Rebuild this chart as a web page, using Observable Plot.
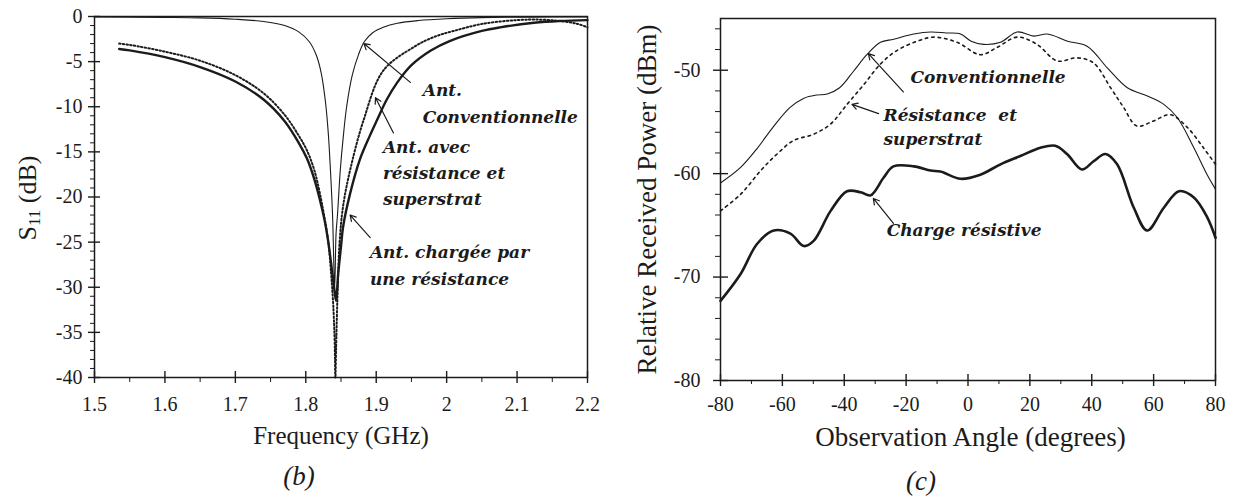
<!DOCTYPE html>
<html><head><meta charset="utf-8">
<script src="https://cdn.jsdelivr.net/npm/d3@7"></script>
<script src="https://cdn.jsdelivr.net/npm/@observablehq/plot@0.6"></script>
<style>
body{margin:0;background:#fff;}
#wrap{position:relative;width:1235px;height:497px;overflow:hidden;background:#fff;}
#left,#right{position:absolute;top:0;}
#left{left:0;} #right{left:620px;}
</style></head><body><div id="wrap"><div id="left"></div><div id="right"></div></div>
<script>
// ---------- Panel (b): S11 vs frequency ----------
const freqConv = [1.5,1.6,1.65,1.7,1.74,1.77,1.79,1.805,1.815,1.822,1.828,1.832,1.835,1.838,1.841,1.843,1.845,1.849,1.853,1.858,1.866,1.875,1.883,1.895,1.91,1.93,1.96,2.0,2.05,2.1,2.15,2.2];
const s11Conv  = [-0.05,-0.1,-0.15,-0.3,-0.55,-1.0,-1.7,-2.8,-4.3,-6.3,-9.5,-13,-17,-22,-30,-24,-22,-17,-13.5,-10,-6.5,-4.2,-2.8,-1.8,-1.2,-0.75,-0.45,-0.25,-0.12,-0.08,-0.06,-0.05];
const freqRes  = [1.535,1.55,1.6,1.65,1.7,1.74,1.77,1.79,1.802,1.812,1.82,1.827,1.832,1.837,1.841,1.843,1.846,1.85,1.853,1.863,1.877,1.891,1.901,1.915,1.93,1.95,1.977,2.005,2.05,2.076,2.124,2.16,2.2];
const s11Res   = [-3.6,-3.75,-4.5,-5.6,-7.2,-9.2,-11.6,-14,-15.8,-18,-20.3,-22.7,-25,-28,-30.5,-31.5,-28.5,-25.5,-23.3,-19.6,-15.8,-13.2,-11.5,-9.2,-7.3,-5.4,-3.8,-2.7,-1.6,-1.2,-0.7,-0.5,-0.4];
const freqSup  = [1.535,1.55,1.6,1.65,1.7,1.74,1.77,1.79,1.802,1.812,1.82,1.827,1.832,1.836,1.839,1.841,1.842,1.843,1.845,1.848,1.853,1.863,1.882,1.91,1.953,1.981,2.01,2.052,2.1,2.133,2.16,2.185,2.2];
const s11Sup   = [-3.0,-3.15,-3.9,-4.9,-6.5,-8.5,-10.9,-13.2,-14.9,-17,-19.6,-22.5,-25,-28.5,-32,-36,-40,-37,-31,-25,-21,-17,-11.5,-6.0,-3.4,-2.3,-1.6,-0.8,-0.4,-0.35,-0.5,-0.8,-1.2];
const freqTicks = [1.5,1.6,1.7,1.8,1.9,2,2.1,2.2];
const freqMinor = [1.55,1.65,1.75,1.85,1.95,2.05,2.15];
const s11Ticks  = [0,-5,-10,-15,-20,-25,-30,-35,-40];
const bNotes  = ["Ant.","Conventionnelle","Ant. avec","résistance et","superstrat","Ant. chargée par","une résistance"];
const bNoteX  = [1.966,1.966,1.9095,1.9095,1.9095,1.891,1.891];
const bNoteY  = [-8.2,-11.2,-14.5,-17.4,-20.3,-26.2,-29.2];
const bArrX1 = [1.9485,1.9245,1.8915], bArrY1 = [-7.3,-12.9,-24.5];
const bArrX2 = [1.8825,1.899,1.8630], bArrY2 = [-3.0,-9.0,-22.0];

// ---------- Panel (c): received power vs angle ----------
const angConv = [-80,-73.5,-68,-63,-57.5,-53,-49,-45.5,-41.5,-37,-32.7,-28.3,-24,-17.5,-12,-7,-2.4,1,5,10.5,15.9,21.3,25.7,32.2,38.6,45.1,51.5,58,63.3,67.7,73,77.3,80];
const powConv = [-60.9,-59.4,-57.5,-55.5,-53.6,-52.7,-52.4,-52.3,-51.7,-50.1,-48.5,-47.3,-47.0,-46.5,-46.3,-46.4,-46.5,-47.2,-47.5,-47.3,-46.3,-46.7,-46.5,-47.2,-47.7,-49.8,-51.7,-52.5,-53.3,-54.6,-57.5,-60.1,-61.5];
const angSup  = [-80,-73.5,-67,-61.7,-56.4,-50,-44.4,-39.1,-33.7,-28.3,-23,-16.5,-11,-3.5,4,9.4,15.9,22.3,28.8,35.3,40.6,46.1,50.3,54.6,60,65.4,70.8,76.1,80];
const powSup  = [-63.6,-62.0,-59.7,-58.1,-56.8,-56.2,-55.2,-53.3,-51.4,-49.4,-48.1,-47.2,-46.8,-47.3,-48.5,-47.8,-46.8,-47.5,-49.1,-48.8,-49.3,-51.7,-53.6,-55.4,-54.9,-54.3,-55.5,-57.5,-59.1];
const angRes  = [-80,-73.5,-68.2,-62.8,-57.4,-53.1,-49.9,-44.4,-39.1,-34.7,-31.5,-27.3,-24.1,-17.5,-12.1,-8.9,-2.4,4,10.5,16.9,23.4,28.2,32,36.8,40.6,44.4,48.2,53.6,57.9,63.3,68.2,73,77.3,80];
const powRes  = [-72.3,-69.7,-66.8,-65.5,-65.8,-67.0,-66.5,-63.6,-61.7,-61.8,-62.1,-60.4,-59.3,-59.3,-59.7,-59.8,-60.5,-60.1,-59.1,-58.3,-57.5,-57.3,-58.1,-59.6,-58.8,-58.1,-59.1,-63.3,-65.5,-63.3,-61.7,-62.3,-64.2,-66.2];
const angleTicks = [-80,-60,-40,-20,0,20,40,60,80];
const angleMinor = [-70,-50,-30,-10,10,30,50,70];
const powTicks   = [-80,-70,-60,-50];
const cNotes = ["Conventionnelle","Résistance  et","superstrat","Charge résistive"];
const cNoteX = [-18.6,-27.3,-27.3,-26.3];
const cNoteY = [-50.7,-54.4,-56.7,-65.5];
const cArrX1 = [-20.9,-28.9,-24.1], cArrY1 = [-52.1,-54.2,-64.8];
const cArrX2 = [-32.2,-37.5,-30.6], cArrY2 = [-48.4,-53.3,-62.4];

// ---------- helpers ----------
const serif = '"Liberation Serif", "Times New Roman", serif';
const noteFont = '"DejaVu Serif", serif';
const ink = "#1b1b1b";
const rows = (xs, ys) => xs.map((x, i) => ({x, y: ys[i]}));
const notes = (t, xs, ys) => t.map((s, i) => ({s, x: xs[i], y: ys[i]}));
const arrows = (x1, y1, x2, y2) => x1.map((v, i) => ({x1: v, y1: y1[i], x2: x2[i], y2: y2[i]}));
const fmt = d => String(d);
const tickText = {fontFamily: serif, fontSize: 20, fill: ink};

const left = Plot.plot({
  width: 620, height: 497,
  marginLeft: 94, marginRight: 33, marginTop: 16, marginBottom: 120,
  style: {fontFamily: serif, fontSize: "20px", color: ink, background: "transparent", overflow: "visible"},
  x: {domain: [1.5, 2.2]},
  y: {domain: [-40, 0]},
  marks: [
    Plot.frame({stroke: ink, strokeWidth: 1.5}),
    Plot.axisY(s11Ticks, {tickSize: 12, dx: 6, text: null, label: null, strokeWidth: 1.4}),
    Plot.axisY(d3.range(-40, 1).filter(v => v % 5 !== 0), {tickSize: 4, text: null, label: null}),
    Plot.axisY(s11Ticks, {tickSize: 0, tickPadding: 12, tickFormat: fmt, label: null, ...tickText}),
    Plot.axisX(freqTicks, {tickSize: 12, dy: -6, text: null, label: null, strokeWidth: 1.4}),
    Plot.axisX(freqMinor, {tickSize: 5, text: null, label: null}),
    Plot.axisX(freqTicks, {tickSize: 0, tickPadding: 19, tickFormat: fmt, label: null, ...tickText}),
    Plot.line(rows(freqConv, s11Conv), {x: "x", y: "y", curve: "catmull-rom", stroke: ink, strokeWidth: 1.1}),
    Plot.line(rows(freqSup, s11Sup), {x: "x", y: "y", curve: "catmull-rom", stroke: ink, strokeWidth: 2, strokeDasharray: "1.5,2.2"}),
    Plot.line(rows(freqRes, s11Res), {x: "x", y: "y", curve: "catmull-rom", stroke: ink, strokeWidth: 2.4}),
    Plot.arrow(arrows(bArrX1, bArrY1, bArrX2, bArrY2), {x1: "x1", y1: "y1", x2: "x2", y2: "y2", stroke: ink, strokeWidth: 1.2, headLength: 8}),
    Plot.text(notes(bNotes, bNoteX, bNoteY), {x: "x", y: "y", text: "s", textAnchor: "start", fontFamily: noteFont, fontWeight: "bold", fontStyle: "italic", fontSize: 17, fill: ink}),
    Plot.text(["Frequency (GHz)"], {frameAnchor: "bottom", textAnchor: "middle", lineAnchor: "middle", dy: 58, fontFamily: serif, fontSize: 25, fill: ink}),
    Plot.text(["(b)"], {frameAnchor: "bottom", textAnchor: "middle", lineAnchor: "middle", dx: -42, dy: 99, fontFamily: serif, fontSize: 27, fontStyle: "italic", fill: ink})
  ]
});
document.getElementById("left").appendChild(left);
// y label with subscript
const yl = d3.select(left).append("text")
  .attr("transform", "translate(30,198) rotate(-90)")
  .attr("text-anchor", "middle").attr("dominant-baseline", "middle")
  .attr("font-family", serif).attr("font-size", 26).attr("fill", ink);
yl.append("tspan").text("S");
yl.append("tspan").attr("font-size", 17).attr("dy", 6).text("11");
yl.append("tspan").attr("dy", -6).text(" (dB)");

const right = Plot.plot({
  width: 615, height: 497,
  marginLeft: 100, marginRight: 20, marginTop: 18, marginBottom: 117,
  style: {fontFamily: serif, fontSize: "20px", color: ink, background: "transparent", overflow: "visible"},
  x: {domain: [-80, 80]},
  y: {domain: [-80, -45]},
  marks: [
    Plot.frame({stroke: ink, strokeWidth: 1.5}),
    Plot.axisY(powTicks, {tickSize: 15, dx: 8, text: null, label: null, strokeWidth: 1.4}),
    Plot.axisY(d3.range(-80, -45, 2).filter(v => v % 10 !== 0), {tickSize: 5, text: null, label: null}),
    Plot.axisY(powTicks, {tickSize: 0, tickPadding: 20, tickFormat: fmt, label: null, ...tickText}),
    Plot.axisX(angleTicks, {tickSize: 12, dy: -6, text: null, label: null, strokeWidth: 1.4}),
    Plot.axisX(angleMinor, {tickSize: 4, text: null, label: null}),
    Plot.axisX(angleTicks, {tickSize: 0, tickPadding: 16, tickFormat: fmt, label: null, ...tickText}),
    Plot.line(rows(angConv, powConv), {x: "x", y: "y", curve: "catmull-rom", stroke: ink, strokeWidth: 1.1}),
    Plot.line(rows(angSup, powSup), {x: "x", y: "y", curve: "catmull-rom", stroke: ink, strokeWidth: 1.6, strokeDasharray: "2.5,4"}),
    Plot.line(rows(angRes, powRes), {x: "x", y: "y", curve: "catmull-rom", stroke: ink, strokeWidth: 2.6}),
    Plot.arrow(arrows(cArrX1, cArrY1, cArrX2, cArrY2), {x1: "x1", y1: "y1", x2: "x2", y2: "y2", stroke: ink, strokeWidth: 1.2, headLength: 8}),
    Plot.text(notes(cNotes, cNoteX, cNoteY), {x: "x", y: "y", text: "s", textAnchor: "start", fontFamily: noteFont, fontWeight: "bold", fontStyle: "italic", fontSize: 17, fill: ink}),
    Plot.text(["Relative Received Power (dBm)"], {frameAnchor: "left", textAnchor: "middle", lineAnchor: "middle", rotate: -90, dx: -73, fontFamily: serif, fontSize: 27, fill: ink}),
    Plot.text(["Observation Angle (degrees)"], {frameAnchor: "bottom", textAnchor: "middle", lineAnchor: "middle", dx: 2.5, dy: 57, fontFamily: serif, fontSize: 27, fill: ink}),
    Plot.text(["(c)"], {frameAnchor: "bottom", textAnchor: "middle", lineAnchor: "middle", dx: -47, dy: 101, fontFamily: serif, fontSize: 27, fontStyle: "italic", fill: ink})
  ]
});
document.getElementById("right").appendChild(right);
</script>
</body></html>
